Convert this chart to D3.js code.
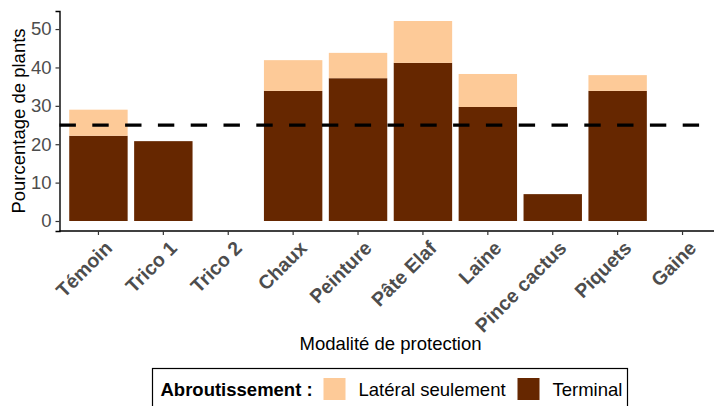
<!DOCTYPE html>
<html>
<head>
<meta charset="utf-8">
<script src="https://cdn.jsdelivr.net/npm/d3@7"></script>
<style>
  body { margin: 0; background: #fff; }
  svg { display: block; font-family: "Liberation Sans", Arial, sans-serif; }
</style>
</head>
<body>
<div id="chart"></div>
<script>
// categories and values (% of plants)
const categories = ["Témoin", "Trico 1", "Trico 2", "Chaux", "Peinture", "Pâte Elaf", "Laine", "Pince cactus", "Piquets", "Gaine"];
const terminal = [22.2, 20.8, 0, 33.9, 37.2, 41.2, 29.7, 7.0, 33.9, 0];
const lateral = [6.8, 0, 0, 8.0, 6.6, 10.9, 8.6, 0, 4.1, 0];
const seriesNames = ["Latéral seulement", "Terminal"];
const seriesColors = ["#FDCA98", "#662700"];
const yTicks = [0, 10, 20, 30, 40, 50];
const threshold = 25;

const width = 714, height = 406;
const margin = {top: 11, left: 59.5, bottom: 231};
const fontSize = 18.5;

const svg = d3.select("#chart").append("svg")
    .attr("width", width)
    .attr("height", height);

const rows = categories.map((c, i) => ({cat: c, Terminal: terminal[i], "Latéral seulement": lateral[i]}));
const stacked = d3.stack().keys(["Terminal", "Latéral seulement"])(rows);

const maxTotal = d3.max(rows, d => d.Terminal + d["Latéral seulement"]);
const pad = maxTotal * 0.05;

const x = d3.scaleBand()
    .domain(categories)
    .range([margin.left, margin.left + 10.2 * 64.9])
    .paddingInner(0.1)
    .paddingOuter(0.15);

const y = d3.scaleLinear()
    .domain([-pad, maxTotal + pad])
    .range([margin.bottom, margin.top]);

const color = d3.scaleOrdinal().domain(seriesNames).range(seriesColors);

// bars
svg.append("g").selectAll("g")
    .data(stacked)
    .join("g")
    .attr("fill", d => color(d.key))
    .selectAll("rect")
    .data(d => d.filter(s => s[1] - s[0] > 0))
    .join("rect")
    .attr("x", d => x(d.data.cat))
    .attr("width", x.bandwidth())
    .attr("y", d => y(d[1]))
    .attr("height", d => y(d[0]) - y(d[1]));

// threshold line
svg.append("line")
    .attr("x1", margin.left)
    .attr("x2", width)
    .attr("y1", y(threshold))
    .attr("y2", y(threshold))
    .attr("stroke", "#000")
    .attr("stroke-width", 3.2)
    .attr("stroke-dasharray", "16.4,16.4");

// y axis
const yAxis = svg.append("g")
    .attr("transform", `translate(${margin.left},0)`)
    .call(d3.axisLeft(y).tickValues(yTicks).tickSize(4).tickPadding(4));
yAxis.select(".domain").attr("stroke", "#000").attr("stroke-width", 1.4);
yAxis.selectAll(".tick line").attr("stroke", "#333").attr("stroke-width", 1.2);
yAxis.selectAll(".tick text")
    .attr("fill", "#4D4D4D")
    .style("font-size", fontSize + "px")
    .style("font-family", "Liberation Sans, Arial, sans-serif");

// x axis
const xAxis = svg.append("g")
    .attr("transform", `translate(0,${margin.bottom})`)
    .call(d3.axisBottom(x).tickSize(4).tickSizeOuter(0));
xAxis.select(".domain").attr("stroke", "#000").attr("stroke-width", 1.4)
    .attr("d", `M${margin.left},0H${width}`);
xAxis.selectAll(".tick line").attr("stroke", "#333").attr("stroke-width", 1.2);
xAxis.selectAll(".tick text")
    .attr("fill", "#4D4D4D")
    .attr("text-anchor", "end")
    .attr("y", 0)
    .attr("dy", "0.72em")
    .attr("transform", "translate(5,8.5) rotate(-45)")
    .style("font-size", "19.5px")
    .style("font-weight", "bold")
    .style("font-family", "Liberation Sans, Arial, sans-serif");

// axis titles
svg.append("text")
    .attr("x", (x.range()[0] + x.range()[1]) / 2)
    .attr("y", 350)
    .attr("text-anchor", "middle")
    .style("font-size", fontSize + "px")
    .text("Modalité de protection");

svg.append("text")
    .attr("transform", `translate(25,${(margin.top + margin.bottom) / 2}) rotate(-90)`)
    .attr("text-anchor", "middle")
    .style("font-size", fontSize + "px")
    .text("Pourcentage de plants");

// legend
const legend = svg.append("g").attr("class", "legend");
legend.append("rect")
    .attr("x", 152.5).attr("y", 368.5)
    .attr("width", 475).attr("height", 60)
    .attr("fill", "#fff")
    .attr("stroke", "#000")
    .attr("stroke-width", 1.2);
legend.append("text")
    .attr("x", 160.5).attr("y", 396)
    .style("font-size", fontSize + "px")
    .style("font-weight", "bold")
    .text("Abroutissement :");

const keyX = [323.5, 517.5];
seriesNames.forEach((name, i) => {
    legend.append("rect")
        .attr("x", keyX[i]).attr("y", 378)
        .attr("width", 22).attr("height", 22)
        .attr("fill", color(name));
    legend.append("text")
        .attr("x", keyX[i] + 35).attr("y", 396)
        .style("font-size", fontSize + "px")
        .text(name);
});
</script>
</body>
</html>
